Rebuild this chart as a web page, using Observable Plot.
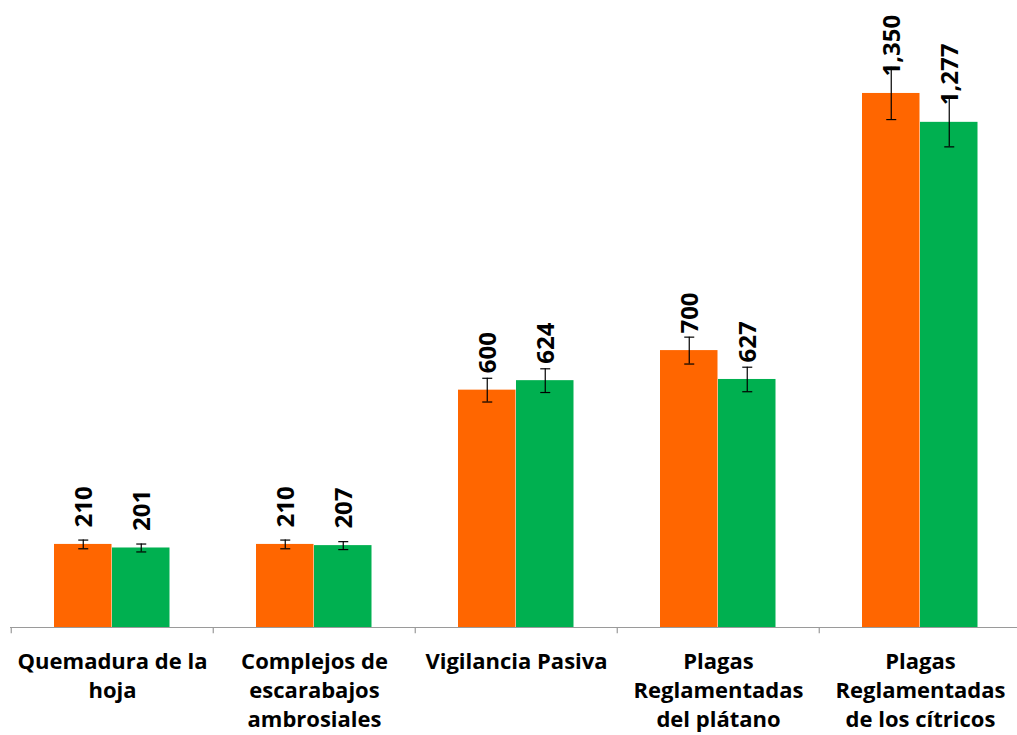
<!DOCTYPE html>
<html><head><meta charset="utf-8">
<script src="https://cdn.jsdelivr.net/npm/d3@7"></script>
<script src="https://cdn.jsdelivr.net/npm/@observablehq/plot@0.6"></script>
<style>html,body{margin:0;padding:0;background:#fff}</style>
</head><body><div id="chart"></div>
<script>
const categories = ["Quemadura de la hoja", "Complejos de escarabajos ambrosiales", "Vigilancia Pasiva", "Plagas Reglamentadas del plátano", "Plagas Reglamentadas de los cítricos"];
const tickLabels = ["Quemadura de la\nhoja", "Complejos de\nescarabajos\nambrosiales", "Vigilancia Pasiva", "Plagas\nReglamentadas\ndel plátano", "Plagas\nReglamentadas\nde los cítricos"];
const seriesNames = ["Serie 1", "Serie 2"];
const seriesColors = ["#FF6600", "#00B050"];
const values1 = [210, 210, 600, 700, 1350];
const values2 = [201, 207, 624, 627, 1277];
const errors1 = [11, 11, 30, 34, 66];
const errors2 = [10, 10, 30, 31, 62];

const rows = categories.flatMap((c, i) => [
  {category: c, series: seriesNames[0], value: values1[i], err: errors1[i]},
  {category: c, series: seriesNames[1], value: values2[i], err: errors2[i]}
]);

const FONT = '"Open Sans", "Liberation Sans", sans-serif';
const fmt = d3.format(",");
const BW = 202.5;
const capSymbol = {draw(ctx) { ctx.moveTo(-5, 0); ctx.lineTo(5, 0); }};

function seriesMarks(name, color, inL, inR, dx) {
  const d = rows.filter(r => r.series === name);
  return [
    Plot.barY(d, {x: "category", y: "value", fill: color, insetLeft: inL, insetRight: inR}),
    Plot.ruleX(d, {x: "category", y1: r => r.value - r.err, y2: r => r.value + r.err, dx, stroke: "#000", strokeWidth: 1.2}),
    Plot.dot(d, {x: "category", y: r => r.value + r.err, symbol: capSymbol, stroke: "#000", strokeWidth: 1.2, dx}),
    Plot.dot(d, {x: "category", y: r => r.value - r.err, symbol: capSymbol, stroke: "#000", strokeWidth: 1.2, dx}),
    Plot.text(d, {x: "category", y: "value", text: r => fmt(r.value), rotate: -90, textAnchor: "start", lineAnchor: "middle",
      dx: dx + 1, dy: -17, fontSize: 24, fontWeight: "bold", fill: "#000"})
  ];
}

const chart = Plot.plot({
  width: 1017,
  height: 735,
  marginTop: 0,
  marginLeft: 10,
  marginRight: 0,
  marginBottom: 108,
  style: {fontFamily: FONT, background: "#fff", color: "#000"},
  x: {type: "band", domain: categories, range: [10, 10 + BW * 5], padding: 0},
  y: {domain: [0, 1585], axis: null},
  marks: [
    ...seriesMarks(seriesNames[0], seriesColors[0], 43, BW - 101, 72 - BW / 2),
    ...seriesMarks(seriesNames[1], seriesColors[1], 101, BW - 159, 130 - BW / 2),
    Plot.ruleY([0], {stroke: "#9a9a9a", strokeWidth: 1.2}),
    Plot.ruleX(categories, {x: d => d, y1: () => 0, y2: () => -16, dx: -BW / 2, stroke: "#9a9a9a", strokeWidth: 1.2}),
    Plot.axisX({tickSize: 0, tickPadding: 21, fontSize: 22, fontWeight: "bold", lineHeight: 1.32, label: null,
      tickFormat: d => tickLabels[categories.indexOf(d)]})
  ]
});
document.getElementById("chart").appendChild(chart);
</script>
</body></html>
